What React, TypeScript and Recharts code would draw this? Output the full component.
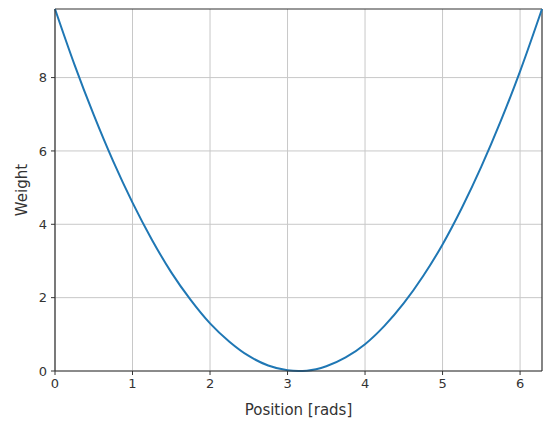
import React from 'react';
import { LineChart, Line, XAxis, YAxis, CartesianGrid, ReferenceLine } from 'recharts';

// positions in radians and the weight
const positions = [0, 0.25, 0.5, 0.75, 1.0, 1.25, 1.5, 1.75, 2.0, 2.25, 2.5, 2.75, 3.0, 3.14, 3.25, 3.5, 3.75, 4.0, 4.25, 4.5, 4.75, 5.0, 5.25, 5.5, 5.75, 6.0, 6.283];
const weights = [9.87, 8.36, 6.98, 5.72, 4.59, 3.58, 2.69, 1.94, 1.3, 0.8, 0.41, 0.15, 0.02, 0, 0.01, 0.13, 0.37, 0.73, 1.23, 1.85, 2.59, 3.45, 4.45, 5.57, 6.81, 8.17, 9.87];

const xTicks = [0, 1, 2, 3, 4, 5, 6];
const yTicks = [0, 2, 4, 6, 8];
const xMax = 6.283;
const yMax = 9.87;

const data = positions.map((p, i) => ({ pos: p, weight: weights[i] }));

const axisColor = '#333';
const font = 'DejaVu Sans, sans-serif';

const App: React.FC = () => {
  return (
    <div style={{ position: 'absolute', left: 0, top: 0, background: '#fff' }}>
      <LineChart width={550} height={428} data={data} margin={{ top: 9, right: 8, left: 10, bottom: 27 }}>
        <CartesianGrid stroke="#c8c8c8" strokeWidth={1} verticalValues={xTicks} horizontalValues={yTicks} />
        <XAxis
          dataKey="pos"
          type="number"
          domain={[0, xMax]}
          ticks={xTicks}
          height={30}
          tick={{ fill: axisColor, fontSize: 13, fontFamily: font }}
          tickSize={4}
          tickMargin={4}
          axisLine={{ stroke: axisColor, strokeWidth: 1.2 }}
          tickLine={{ stroke: axisColor }}
          label={{ value: 'Position [rads]', position: 'insideBottom', offset: -14, fill: axisColor, fontSize: 15, fontFamily: font }}
        />
        <YAxis
          type="number"
          domain={[0, yMax]}
          ticks={yTicks}
          width={45}
          tick={{ fill: axisColor, fontSize: 13, fontFamily: font }}
          tickSize={4}
          tickMargin={4}
          axisLine={{ stroke: axisColor, strokeWidth: 1.2 }}
          tickLine={{ stroke: axisColor }}
          label={{ value: 'Weight', angle: -90, position: 'insideLeft', offset: 12, fill: axisColor, fontSize: 15, fontFamily: font, style: { textAnchor: 'middle' } }}
        />
        <ReferenceLine y={yMax} stroke={axisColor} strokeWidth={1.2} />
        <ReferenceLine x={xMax} stroke={axisColor} strokeWidth={1.2} />
        <Line
          type="monotone"
          dataKey="weight"
          stroke="#1f77b4"
          strokeWidth={2}
          dot={false}
          isAnimationActive={false}
        />
      </LineChart>
    </div>
  );
};

export default App;
